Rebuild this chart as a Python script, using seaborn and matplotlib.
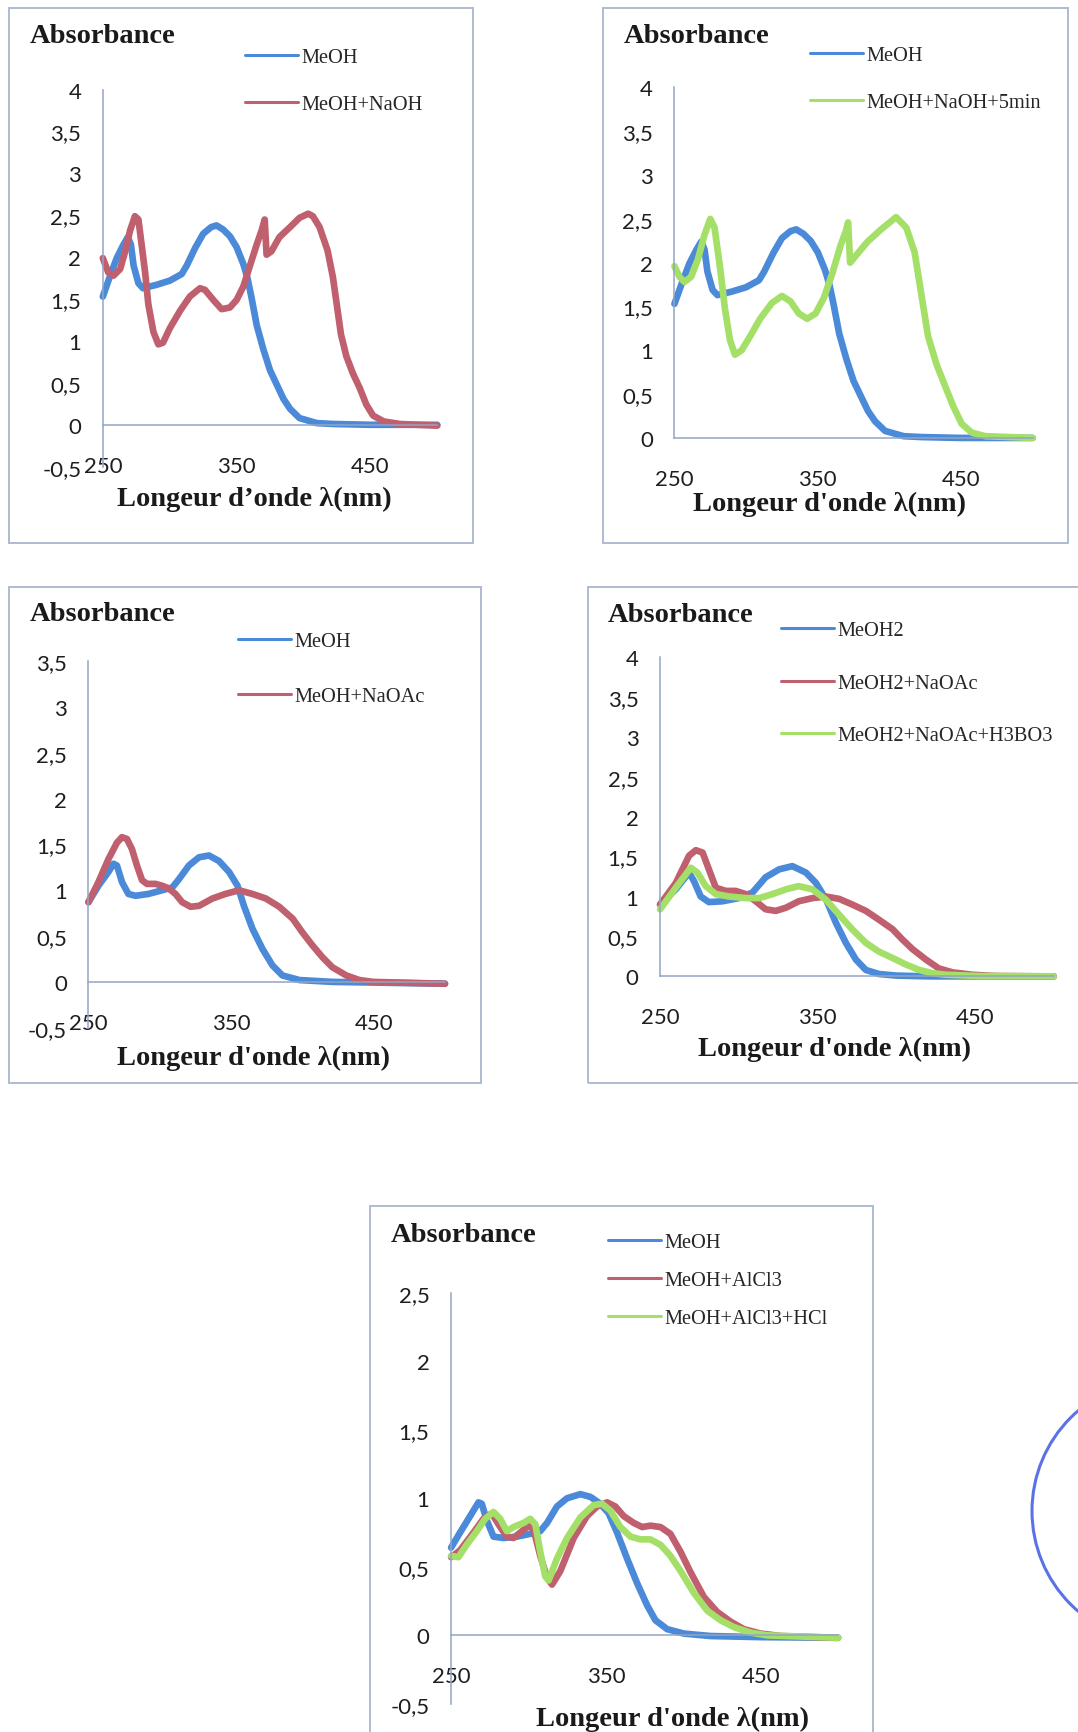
import numpy as np
import pandas as pd
import matplotlib
matplotlib.use("Agg")
import matplotlib.pyplot as plt
import seaborn as sns
from matplotlib.patches import Rectangle, Ellipse
from matplotlib.lines import Line2D

# ---------------- data ----------------
XTICKS = [250, 350, 450]
XTICKLABELS = ["250", "350", "450"]

YT_4N = [-0.5, 0, 0.5, 1, 1.5, 2, 2.5, 3, 3.5, 4]
YL_4N = ["-0,5", "0", "0,5", "1", "1,5", "2", "2,5", "3", "3,5", "4"]
YT_4 = [0, 0.5, 1, 1.5, 2, 2.5, 3, 3.5, 4]
YL_4 = ["0", "0,5", "1", "1,5", "2", "2,5", "3", "3,5", "4"]
YT_35N = [-0.5, 0, 0.5, 1, 1.5, 2, 2.5, 3, 3.5]
YL_35N = ["-0,5", "0", "0,5", "1", "1,5", "2", "2,5", "3", "3,5"]
YT_25N = [-0.5, 0, 0.5, 1, 1.5, 2, 2.5]
YL_25N = ["-0,5", "0", "0,5", "1", "1,5", "2", "2,5"]

# panel 1 / 2 : MeOH
meoh_wl = [250, 255.5, 260.4, 265.4, 268.7, 271, 273, 276.6, 280, 290,
           300, 309, 312.7, 319, 325, 331, 335, 340, 345, 350,
           355, 358, 361, 365, 370, 375, 380, 385, 390, 397,
           410, 422, 450, 500]
meoh_a = [1.53, 1.78, 1.99, 2.15, 2.24, 2.15, 1.9, 1.69, 1.63, 1.67,
          1.72, 1.8, 1.9, 2.11, 2.28, 2.36, 2.38, 2.33, 2.25, 2.12,
          1.92, 1.76, 1.53, 1.19, 0.9, 0.65, 0.48, 0.31, 0.19, 0.08,
          0.02, 0.01, 0.0, 0.0]
# panel 1 : MeOH+NaOH
naoh_wl = [250, 254, 258, 263, 266.7, 270.4, 274, 276.6, 279, 281.6,
           284, 287.8, 291.5, 295, 300, 307.7, 315, 322.6, 326.4, 332.6,
           338.8, 345, 350, 355, 360, 365, 368.7, 371, 372.4, 376,
           382, 390, 397, 403.5, 407, 412, 418, 422, 425, 428,
           432, 437, 442, 447, 452, 460, 472, 485, 500]
naoh_a = [1.99, 1.82, 1.78, 1.86, 2.07, 2.32, 2.49, 2.45, 2.15, 1.82,
          1.44, 1.11, 0.96, 0.98, 1.15, 1.36, 1.53, 1.63, 1.61, 1.49,
          1.38, 1.4, 1.49, 1.65, 1.9, 2.15, 2.32, 2.45, 2.03, 2.07,
          2.24, 2.36, 2.47, 2.52, 2.49, 2.36, 2.08, 1.76, 1.42, 1.08,
          0.82, 0.61, 0.44, 0.24, 0.11, 0.04, 0.01, 0.0, -0.01]
# panel 2 : MeOH+NaOH+5min
naoh5_wl = [250, 253.5, 257, 261.7, 266.4, 271, 275, 278, 281.7, 285.2,
            288.7, 292.2, 296.9, 302.8, 309.8, 318, 325, 330.9, 336.8, 342.6,
            348.5, 354.3, 360.2, 366, 369.6, 371.2, 372.6, 376.6, 384.8, 394.2,
            404.7, 411.8, 417.6, 422.3, 427, 432.9, 438.7, 444.6, 450.5, 457.5,
            466.9, 500]
naoh5_a = [1.96, 1.84, 1.78, 1.84, 2.04, 2.32, 2.5, 2.4, 1.96, 1.48,
           1.12, 0.95, 1.0, 1.16, 1.36, 1.54, 1.62, 1.56, 1.42, 1.36,
           1.42, 1.6, 1.88, 2.2, 2.36, 2.46, 2.0, 2.08, 2.24, 2.38,
           2.52, 2.4, 2.12, 1.64, 1.16, 0.84, 0.6, 0.36, 0.16, 0.06,
           0.02, 0.0]
# panel 3 : MeOH / MeOH+NaOAc
meoh3_wl = [250, 257, 264, 267.6, 270, 273.5, 278, 283, 292, 301.6,
            308.7, 313.4, 320.4, 327.5, 334.5, 341.5, 348.6, 354.5, 359, 365,
            372, 379, 386, 398, 421, 460, 500]
meoh3_a = [0.87, 1.05, 1.2, 1.29, 1.27, 1.09, 0.96, 0.94, 0.96, 1.0,
           1.03, 1.12, 1.27, 1.36, 1.38, 1.32, 1.2, 1.05, 0.83, 0.58,
           0.36, 0.18, 0.07, 0.02, 0.0, -0.01, -0.02]
naoac3_wl = [250, 257, 264, 270, 273.5, 277, 280.5, 284, 287.6, 291,
             297, 301.6, 306.3, 311, 315.7, 321.6, 327.5, 336.9, 346, 355.6,
             365, 374.4, 383.8, 393.2, 400, 407, 414, 421, 430.8, 440,
             449.5, 500]
naoac3_a = [0.87, 1.09, 1.34, 1.52, 1.58, 1.56, 1.45, 1.27, 1.11, 1.07,
            1.07, 1.05, 1.02, 0.96, 0.87, 0.82, 0.83, 0.91, 0.96, 1.0,
            0.96, 0.91, 0.82, 0.69, 0.54, 0.4, 0.27, 0.16, 0.07, 0.02,
            0.0, -0.02]
# panel 4 : MeOH2 / +NaOAc / +NaOAc+H3BO3
meoh4_wl = [250, 260, 268.4, 271.6, 275.8, 281, 289.6, 300, 308.7, 317,
            325.6, 334, 342.6, 349, 355.5, 361.7, 368, 374.4, 380.7, 389,
            400, 421, 500]
meoh4_a = [0.9, 1.09, 1.3, 1.19, 1.0, 0.93, 0.94, 0.98, 1.05, 1.24,
           1.34, 1.38, 1.3, 1.17, 0.96, 0.67, 0.42, 0.21, 0.08, 0.03,
           0.01, 0.0, 0.0]
naoac4_wl = [250, 260, 268.4, 272.7, 277, 281, 285.4, 291.7, 298, 304.4,
             310.8, 317, 323.5, 330, 338, 346.8, 355.3, 363.8, 372, 380.7,
             389, 397.7, 404, 410.4, 418.9, 427, 435.8, 448.5, 463, 500]
naoac4_a = [0.9, 1.17, 1.51, 1.58, 1.55, 1.34, 1.11, 1.07, 1.07, 1.03,
            0.94, 0.84, 0.82, 0.86, 0.94, 0.98, 1.0, 0.97, 0.9, 0.82,
            0.71, 0.59, 0.46, 0.34, 0.21, 0.1, 0.05, 0.02, 0.005, 0.0]
boric4_wl = [250, 260, 269.5, 273.7, 279, 285.4, 293.9, 304.4, 313, 321.4,
             330, 338, 346.8, 355.3, 363.8, 372, 380.7, 389, 397.7, 406,
             414.6, 423, 431.6, 452.8, 500]
boric4_a = [0.84, 1.11, 1.36, 1.3, 1.13, 1.03, 1.0, 0.98, 0.98, 1.03,
            1.09, 1.13, 1.09, 0.96, 0.77, 0.59, 0.42, 0.31, 0.23, 0.15,
            0.08, 0.04, 0.02, 0.005, 0.0]
# panel 5 : MeOH / +AlCl3 / +AlCl3+HCl
meoh5_wl = [250, 255.8, 262.3, 267.7, 269.8, 273, 277.4, 283.9, 292.5, 301,
            307.6, 312, 318.4, 324.9, 333.5, 340, 346.4, 351.8, 357.2, 363.7,
            370.2, 376.6, 382, 389.6, 400.4, 417.6, 450, 500]
meoh5_a = [0.64, 0.75, 0.87, 0.97, 0.96, 0.84, 0.72, 0.71, 0.72, 0.74,
           0.76, 0.82, 0.94, 1.0, 1.03, 1.01, 0.96, 0.89, 0.75, 0.56,
           0.38, 0.22, 0.11, 0.045, 0.013, -0.005, -0.013, -0.018]
alcl3_wl = [250, 255.8, 264.5, 270.9, 276.3, 280.6, 286, 290.3, 294.7, 300,
            303.3, 307.6, 312, 315.2, 320.6, 329.2, 337.8, 344.3, 350.8, 356.1,
            361.5, 368, 373.4, 378.8, 385.3, 391.7, 398.2, 404.7, 413.3, 422,
            430.6, 439.2, 450, 463, 500]
alcl3_a = [0.57, 0.62, 0.75, 0.85, 0.89, 0.81, 0.72, 0.71, 0.75, 0.8,
           0.77, 0.58, 0.42, 0.37, 0.47, 0.71, 0.87, 0.94, 0.97, 0.94,
           0.87, 0.82, 0.79, 0.8, 0.79, 0.74, 0.61, 0.46, 0.28, 0.17,
           0.1, 0.045, 0.013, -0.005, -0.018]
hcl_wl = [250, 254.7, 260, 266.6, 272, 277.4, 281.7, 286, 290.3, 296.8,
          301.1, 304.4, 307.6, 310.8, 313, 318.4, 324.9, 333.5, 342.1, 347.5,
          352.9, 359.4, 365.9, 372.3, 378.8, 385.3, 391.7, 398.2, 406.8, 415.5,
          424.1, 432.7, 443.5, 454.3, 500]
hcl_a = [0.58, 0.57, 0.66, 0.76, 0.85, 0.9, 0.85, 0.76, 0.79, 0.82,
         0.85, 0.81, 0.61, 0.43, 0.4, 0.56, 0.71, 0.86, 0.95, 0.96,
         0.91, 0.79, 0.72, 0.7, 0.7, 0.66, 0.58, 0.47, 0.31, 0.18,
         0.11, 0.06, 0.02, 0.0, -0.018]

# ---------------- styling ----------------
W, H = 1078, 1733
S = 1078 / 975.0          # layout measured on the 975-wide preview
BLUE = "#4a8ad8"
RED = "#c0606e"
GREEN = "#a4e068"
AXC = "#93a5c4"
BOXC = "#aebbd0"
SERIF = "Liberation Serif"
LEG_FS = 14.7

sns.set_theme(style="white")
plt.rcParams["font.family"] = ["Lato", "DejaVu Sans"]
plt.rcParams["axes.unicode_minus"] = False

fig = plt.figure(figsize=(W / 100, H / 100), dpi=100)
fig.patch.set_facecolor("white")


def panel(box, xpx, ypx, ylim, yt, yl, title_xy, leg_top, leg_gap, xlabel,
          xlabel_xy, series):
    bx0, by0, bx1, by1 = [v * S for v in box]
    fig.add_artist(Rectangle((bx0 / W, 1 - by1 / H), (bx1 - bx0) / W,
                             (by1 - by0) / H, transform=fig.transFigure,
                             fill=False, ec=BOXC, lw=1.4, zorder=0))
    x0, x1 = xpx[0] * S, xpx[1] * S
    yt_px, yb_px = ypx[0] * S, ypx[1] * S
    ax = fig.add_axes([x0 / W, 1 - yb_px / H, (x1 - x0) / W, (yb_px - yt_px) / H])
    ax.patch.set_alpha(0)
    handles, names = [], []
    for name, wl, ab, col in series:
        df = pd.DataFrame({"wl": wl, "A": ab})
        sns.lineplot(data=df, x="wl", y="A", ax=ax, color=col, lw=4.8,
                     legend=False, clip_on=False,
                     solid_capstyle="round", solid_joinstyle="round")
        handles.append(Line2D([], [], color=col, lw=2.2))
        names.append(name)
    ax.set_xlim(250, 500)
    ax.set_ylim(*ylim)
    for s in ["top", "right"]:
        ax.spines[s].set_visible(False)
    for s in ["left", "bottom"]:
        ax.spines[s].set_color(AXC)
        ax.spines[s].set_linewidth(1.1)
    ax.spines["bottom"].set_position(("data", 0))
    ax.set_xticks(XTICKS)
    ax.set_xticklabels(XTICKLABELS)
    ax.set_yticks(yt)
    ax.set_yticklabels(yl)
    ax.tick_params(axis="both", direction="out", length=4.5, width=1.0,
                   color=AXC, labelsize=16, labelcolor="#1e1e1e")
    ax.tick_params(axis="y", pad=11)
    ax.tick_params(axis="x", pad=25)
    for lab in ax.get_xticklabels():
        lab.set_verticalalignment("center")
    ax.grid(False)
    # axis titles
    ax.set_ylabel("Absorbance", rotation=0, fontsize=20.5, fontweight="bold",
                  family=SERIF, ha="left", va="center", color="#1a1a1a")
    ax.yaxis.set_label_coords((title_xy[0] * S - x0) / (x1 - x0),
                              (yb_px - title_xy[1] * S) / (yb_px - yt_px))
    ax.set_xlabel(xlabel, fontsize=20.5, fontweight="bold", family=SERIF,
                  ha="center", va="center", color="#1a1a1a")
    ax.xaxis.set_label_coords((xlabel_xy[0] * S - x0) / (x1 - x0),
                              (yb_px - xlabel_xy[1] * S) / (yb_px - yt_px))
    fs_px = LEG_FS / 0.72
    # leg_top = (x, y) of first legend row in full-size pixels
    ax.legend(handles, names, loc="upper left",
              bbox_to_anchor=(leg_top[0] / W, 1 - (leg_top[1] - 0.34 * fs_px) / H),
              bbox_transform=fig.transFigure, frameon=False,
              prop={"family": SERIF, "size": LEG_FS}, handlelength=2.6,
              handletextpad=0.15,
              labelspacing=max(0.2, (leg_gap - 0.905 * fs_px) / fs_px),
              borderpad=0, borderaxespad=0)
    return ax


panel((8, 8, 428, 492), (93, 395.5), (82, 423), (-0.5, 4), YT_4N, YL_4N,
      (27, 33), (245, 55.5), 46, "Longeur d\u2019onde \u03bb(nm)", (230, 452),
      [("MeOH", meoh_wl, meoh_a, BLUE),
       ("MeOH+NaOH", naoh_wl, naoh_a, RED)])

panel((545, 8, 966, 492), (610, 934), (80, 397), (0, 4), YT_4, YL_4,
      (564, 33), (810, 54), 46, "Longeur d'onde \u03bb(nm)", (750, 456),
      [("MeOH", meoh_wl, meoh_a, BLUE),
       ("MeOH+NaOH+5min", naoh5_wl, naoh5_a, GREEN)])

panel((8, 532, 435, 980), (80, 402.5), (599, 930.4), (-0.5, 3.5), YT_35N, YL_35N,
      (27, 556), (238, 640), 54, "Longeur d'onde \u03bb(nm)", (229, 957),
      [("MeOH", meoh3_wl, meoh3_a, BLUE),
       ("MeOH+NaOAc", naoac3_wl, naoac3_a, RED)])

panel((532, 532, 990, 980), (597, 953), (595, 884), (0, 4), YT_4, YL_4,
      (550, 557), (781, 629), 51.5, "Longeur d'onde \u03bb(nm)", (755, 949),
      [("MeOH2", meoh4_wl, meoh4_a, BLUE),
       ("MeOH2+NaOAc", naoac4_wl, naoac4_a, RED),
       ("MeOH2+NaOAc+H3BO3", boric4_wl, boric4_a, GREEN)])

panel((335, 1092, 790, 1580), (408, 758), (1170, 1542), (-0.5, 2.5), YT_25N, YL_25N,
      (353, 1117), (608, 1241), 37, "Longeur d'onde \u03bb(nm)", (608, 1555),
      [("MeOH", meoh5_wl, meoh5_a, BLUE),
       ("MeOH+AlCl3", alcl3_wl, alcl3_a, RED),
       ("MeOH+AlCl3+HCl", hcl_wl, hcl_a, GREEN)])

# partial stamp ring at the right edge
cx, cy, r = 1164, 1512, 132
fig.add_artist(Ellipse((cx / W, 1 - cy / H), 2 * r / W, 2 * r / H,
                       transform=fig.transFigure, fill=False, ec="#5a72e6",
                       lw=2.2, zorder=5))

fig.savefig("out.png", dpi=100, facecolor="white")
